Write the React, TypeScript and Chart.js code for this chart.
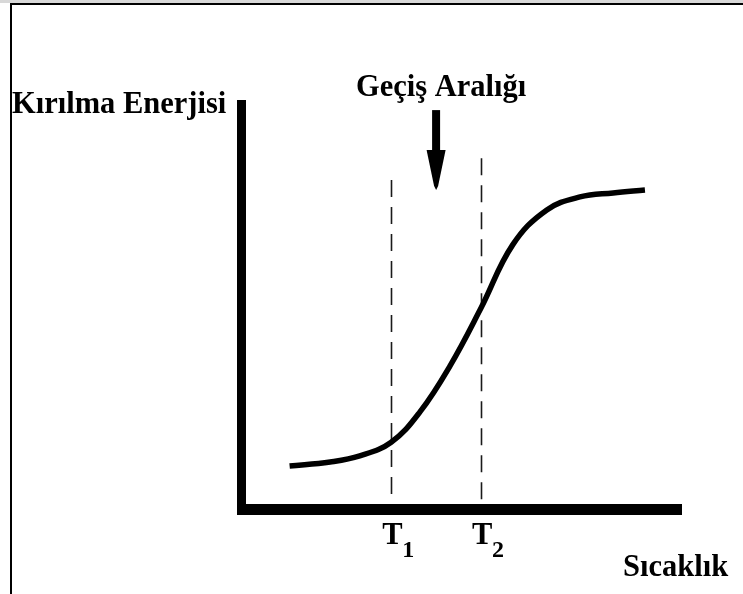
import { useEffect, useRef } from "react";
import { Chart, registerables } from "chart.js";

Chart.register(...registerables);

// Data (arbitrary units: temperature 0-100, fracture energy 0-100)
const temperature = [10, 19.3, 26.1, 33.3, 39.9, 46.8, 53.9, 61.2, 69.0, 76.6, 84.2, 91.5];
const fractureEnergy = [9.4, 10.4, 11.9, 15.3, 22.8, 34.2, 48.5, 64.2, 72.8, 76.0, 77.0, 77.7];
const transitionTemps = [33.3, 53.9];
const transitionSubscripts = ["1", "2"];
const transitionLineTops = [80.2, 85.6];
const arrowValues = { x: 43.6, top: 97.5, headStart: 87.6, tip: 77.7 };
const yTitle = "Kırılma Enerjisi";
const xTitle = "Sıcaklık";
const rangeTitle = "Geçiş Aralığı";

const FONT = "'Liberation Serif', 'Times New Roman', serif";

const decorPlugin = {
  id: "decor",
  beforeDatasetsDraw(chart: any) {
    const { ctx, chartArea, scales } = chart;
    const xs = scales.x;
    const ys = scales.y;
    ctx.save();
    // dashed transition lines
    ctx.strokeStyle = "#1a1a1a";
    ctx.lineWidth = 1.6;
    ctx.setLineDash([17, 10]);
    transitionTemps.forEach((t, i) => {
      const px = Math.round(xs.getPixelForValue(t)) + 0.5;
      ctx.beginPath();
      ctx.moveTo(px, ys.getPixelForValue(transitionLineTops[i]));
      ctx.lineTo(px, chartArea.bottom);
      ctx.stroke();
    });
    ctx.setLineDash([]);
    ctx.restore();
  },
  afterDraw(chart: any) {
    const { ctx, chartArea, scales } = chart;
    const xs = scales.x;
    const ys = scales.y;
    ctx.save();
    ctx.fillStyle = "#000";
    // axes
    const yw = 9;
    const xw = 11;
    ctx.fillRect(chartArea.left - yw, chartArea.top, yw, chartArea.bottom + xw - chartArea.top);
    ctx.fillRect(chartArea.left - yw, chartArea.bottom, chartArea.right - chartArea.left + yw, xw);

    // arrow
    const ax = xs.getPixelForValue(arrowValues.x);
    const aTop = ys.getPixelForValue(arrowValues.top);
    const aHead = ys.getPixelForValue(arrowValues.headStart);
    const aTip = ys.getPixelForValue(arrowValues.tip);
    ctx.fillRect(ax - 4, aTop, 8, aHead - aTop + 2);
    ctx.beginPath();
    ctx.moveTo(ax - 9.5, aHead);
    ctx.lineTo(ax + 9.5, aHead);
    ctx.lineTo(ax + 2, aTip - 4);
    ctx.lineTo(ax, aTip);
    ctx.lineTo(ax - 2, aTip - 4);
    ctx.closePath();
    ctx.fill();

    // texts
    ctx.textAlign = "left";
    ctx.textBaseline = "alphabetic";
    ctx.font = `bold 30.5px ${FONT}`;
    ctx.fillText(yTitle, 12, 113);
    ctx.fillText(rangeTitle, 356, 96);
    ctx.fillText(xTitle, 623, 576);

    transitionTemps.forEach((t, i) => {
      const px = xs.getPixelForValue(t);
      ctx.font = `bold 30.5px ${FONT}`;
      ctx.fillText("T", px - 9, 544);
      ctx.font = `bold 24px ${FONT}`;
      ctx.fillText(transitionSubscripts[i], px + 11, 557);
    });
    ctx.restore();
  },
};

export default function App() {
  const ref = useRef<HTMLCanvasElement | null>(null);
  useEffect(() => {
    if (!ref.current) return;
    const chart = new Chart(ref.current, {
      type: "line",
      data: {
        datasets: [
          {
            label: yTitle,
            data: temperature.map((x, i) => ({ x, y: fractureEnergy[i] })),
            borderColor: "#000",
            borderWidth: 5.5,
            pointRadius: 0,
            fill: false,
            tension: 0.4,
            borderCapStyle: "butt",
          },
        ],
      },
      options: {
        responsive: false,
        animation: false,
        layout: { padding: { left: 246, right: 61, top: 100, bottom: 90 } },
        plugins: { legend: { display: false }, tooltip: { enabled: false }, title: { display: false } },
        scales: {
          x: { type: "linear", min: 0, max: 100, display: false },
          y: { type: "linear", min: 0, max: 100, display: false },
        },
      },
      plugins: [decorPlugin],
    });
    return () => chart.destroy();
  }, []);
  return (
    <div style={{ position: "fixed", left: 0, top: 0, width: 743, height: 594, background: "#fff" }}>
      <div style={{ position: "absolute", left: 0, top: 0, width: 743, height: 3, background: "#d8d8d8" }} />
      <div
        style={{
          position: "absolute",
          left: 10,
          top: 3,
          width: 733,
          height: 591,
          borderLeft: "2px solid #000",
          borderTop: "2px solid #000",
          boxSizing: "border-box",
        }}
      />
      <canvas ref={ref} width={743} height={594} style={{ position: "absolute", left: 0, top: 0 }} />
    </div>
  );
}
